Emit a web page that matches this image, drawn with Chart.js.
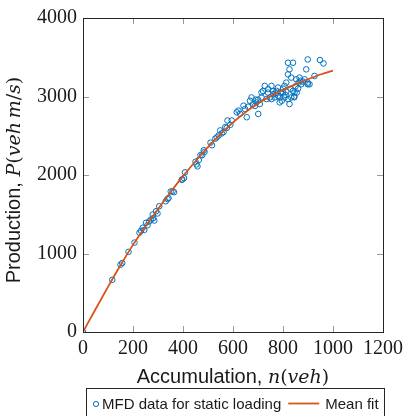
<!DOCTYPE html>
<html>
    <head>
        <title>MFD static loading</title>
        <script src="https://cdn.jsdelivr.net/npm/chart.js@4.4.0/dist/chart.umd.min.js"></script>
    </head>
    <body style="margin:0; background:#fff;">
        <div style="position: relative; width:408px; height:416px;">
            <canvas id="myChart" width="408" height="416"></canvas>
        </div>
        <script>
            // scatter points: accumulation n (veh), production P (veh m/s)
            const dataN = [0, 117, 150, 157, 182, 206, 226, 232, 239, 245, 252, 258, 265, 272, 279, 281, 285, 292, 298, 305,
                331, 338, 342, 351, 358, 364, 395, 397, 404, 408, 450, 454, 458, 463, 470, 477, 483, 486, 510, 516,
                529, 535, 543, 549, 555, 562, 569, 575, 589, 595, 578, 615, 622, 628, 642, 648, 655, 660, 668, 674,
                681, 688, 694, 701, 707, 714, 714, 727, 734, 741, 747, 754, 754, 761, 767, 774, 780, 780, 787, 787,
                795, 800, 806, 806, 813, 820, 820, 840, 826, 833, 826, 820, 833, 840, 846, 853, 863, 866, 873, 886,
                893, 899, 899, 906, 926, 948, 962, 813, 800, 830, 850, 860, 870, 880, 790, 770, 810, 845, 855, 760,
                740, 720, 700, 690, 845, 899];
            const dataP = [0, 665, 858, 879, 1021, 1139, 1265, 1290, 1328, 1300, 1391, 1360, 1410, 1433, 1496, 1450, 1420, 1538, 1510, 1602,
                1665, 1694, 1706, 1790, 1791, 1781, 1938, 1945, 1960, 2034, 2169, 2135, 2110, 2190, 2253, 2253, 2316, 2295, 2412, 2379,
                2463, 2480, 2505, 2568, 2530, 2547, 2610, 2600, 2640, 2694, 2694, 2799, 2820, 2780, 2883, 2841, 2736, 2870, 2946, 2988,
                2904, 2880, 2925, 2778, 2904, 3051, 2988, 3135, 2967, 3093, 2988, 3135, 2967, 3030, 2988, 3072, 3114, 3009, 2988, 2925,
                2946, 3051, 3135, 2988, 3177, 3282, 3430, 3430, 3346, 3241, 2904, 2967, 2988, 3072, 3051, 3219, 3177, 3241, 3156, 3219,
                3346, 3472, 3177, 3156, 3262, 3464, 3421, 3060, 3100, 3100, 3130, 3100, 3200, 3190, 3050, 3040, 3020, 3000, 3050, 3070,
                3050, 3070, 2960, 2960, 2990, 3156];

            // mean fit curve
            const fitN = [0, 50, 100, 150, 200, 250, 300, 350, 400, 450, 500, 550, 600, 650, 700, 750, 800, 850, 900, 950, 1000];
            const fitP = [0, 290, 575, 850, 1110, 1345, 1565, 1780, 1985, 2175, 2355, 2520, 2670, 2800, 2910, 3005, 3085, 3155, 3220, 3280, 3330];

            const xTicks = [0, 200, 400, 600, 800, 1000, 1200];
            const yTicks = [0, 1000, 2000, 3000, 4000];

            const labelScatter = 'MFD data for static loading';
            const labelFit = 'Mean fit';

            const BLUE = '#0072BD';
            const ORANGE = '#D95319';
            const INK = '#1a1a1a';

            // draws text pieces one after the other, each with its own font
            function drawParts(ctx, parts, x, y) {
                let w = 0;
                parts.forEach(p => { ctx.font = p[1]; w += ctx.measureText(p[0]).width; });
                let cx = x - w / 2;
                parts.forEach(p => {
                    ctx.font = p[1];
                    ctx.fillText(p[0], cx, y);
                    cx += ctx.measureText(p[0]).width;
                });
            }

            const sans = '20px "Liberation Sans", Arial, sans-serif';
            const mathI = 'italic 19px "DejaVu Serif", serif';
            const mathR = '19px "DejaVu Serif", serif';

            const framePlugin = {
                id: 'frame',
                afterDraw(chart) {
                    const ctx = chart.ctx;
                    const a = chart.chartArea;
                    const xs = chart.scales.x, ys = chart.scales.y;
                    ctx.save();
                    // inward ticks on all four sides
                    ctx.strokeStyle = '#9a9a9a';
                    ctx.lineWidth = 1;
                    ctx.beginPath();
                    xTicks.forEach(v => {
                        const px = Math.round(xs.getPixelForValue(v)) + 0.5;
                        ctx.moveTo(px, a.bottom); ctx.lineTo(px, a.bottom - 6);
                        ctx.moveTo(px, a.top); ctx.lineTo(px, a.top + 6);
                    });
                    yTicks.forEach(v => {
                        const py = Math.round(ys.getPixelForValue(v)) + 0.5;
                        ctx.moveTo(a.left, py); ctx.lineTo(a.left + 6, py);
                        ctx.moveTo(a.right, py); ctx.lineTo(a.right - 6, py);
                    });
                    ctx.stroke();
                    // box
                    ctx.strokeStyle = '#262626';
                    ctx.strokeRect(Math.round(a.left) + 0.5, Math.round(a.top) + 0.5,
                        Math.round(a.right - a.left), Math.round(a.bottom - a.top));

                    // axis titles
                    ctx.fillStyle = INK;
                    ctx.textBaseline = 'alphabetic';
                    ctx.textAlign = 'left';
                    const midX = (a.left + a.right) / 2;
                    drawParts(ctx, [['Accumulation, ', sans], ['n', mathI], ['(', mathR], ['veh', mathI], [')', mathR]], midX, 383);

                    ctx.save();
                    ctx.translate(20, (a.top + a.bottom) / 2 + 5);
                    ctx.rotate(-Math.PI / 2);
                    drawParts(ctx, [['Production, ', sans], ['P', mathI], ['(', mathR], ['veh\u2009m', mathI], ['/', mathR], ['s', mathI], [')', mathR]], 0, 0);
                    ctx.restore();

                    // legend
                    const bx = 86, by = 388, bw = 298, bh = 32;
                    ctx.fillStyle = '#fff';
                    ctx.fillRect(bx, by, bw, bh);
                    ctx.strokeStyle = '#262626';
                    ctx.lineWidth = 1;
                    ctx.strokeRect(bx + 0.5, by + 0.5, bw, bh);
                    ctx.font = '15px "Liberation Sans", Arial, sans-serif';
                    ctx.fillStyle = INK;
                    const ty = 409;
                    ctx.strokeStyle = BLUE;
                    ctx.beginPath();
                    ctx.arc(bx + 10, 404, 2.6, 0, Math.PI * 2);
                    ctx.stroke();
                    let tx = bx + 16;
                    ctx.fillText(labelScatter, tx, ty);
                    tx += ctx.measureText(labelScatter).width + 7;
                    ctx.strokeStyle = ORANGE;
                    ctx.lineWidth = 1.8;
                    ctx.beginPath();
                    ctx.moveTo(tx, 403.5); ctx.lineTo(tx + 31, 403.5);
                    ctx.stroke();
                    tx += 37;
                    ctx.fillText(labelFit, tx, ty);
                    ctx.restore();
                }
            };

            const ctx = document.getElementById('myChart').getContext('2d');
            const chart = new Chart(ctx, {
                type: 'scatter',
                data: {
                    datasets: [{
                        type: 'line',
                        label: labelFit,
                        data: fitN.map((n, i) => ({x: n, y: fitP[i]})),
                        borderColor: ORANGE,
                        borderWidth: 1.8,
                        pointRadius: 0,
                        fill: false,
                        cubicInterpolationMode: 'monotone',
                        order: 0
                    }, {
                        label: labelScatter,
                        data: dataN.map((n, i) => ({x: n, y: dataP[i]})),
                        borderColor: BLUE,
                        backgroundColor: 'rgba(0,0,0,0)',
                        pointStyle: 'circle',
                        pointRadius: 2.8,
                        borderWidth: 1,
                        order: 1
                    }]
                },
                options: {
                    responsive: false,
                    animation: false,
                    layout: { padding: { left: 0, right: 22, top: 15, bottom: 24 } },
                    plugins: { legend: { display: false }, tooltip: { enabled: false } },
                    scales: {
                        x: {
                            type: 'linear', min: 0, max: 1200,
                            afterBuildTicks: s => { s.ticks = xTicks.map(v => ({value: v})); },
                            afterFit: s => { s.height = 60; },
                            grid: { display: false, drawTicks: false },
                            border: { display: false },
                            ticks: { padding: 5, color: INK, maxRotation: 0, callback: v => String(v),
                                font: { family: '"Liberation Serif", serif', size: 20 } }
                        },
                        y: {
                            type: 'linear', min: 0, max: 4000,
                            afterBuildTicks: s => { s.ticks = yTicks.map(v => ({value: v})); },
                            afterFit: s => { s.width = 83; },
                            grid: { display: false, drawTicks: false },
                            border: { display: false },
                            ticks: { padding: 6, color: INK, callback: v => String(v),
                                font: { family: '"Liberation Serif", serif', size: 20 } }
                        }
                    }
                },
                plugins: [framePlugin]
            });
        </script>
    </body>
</html>
